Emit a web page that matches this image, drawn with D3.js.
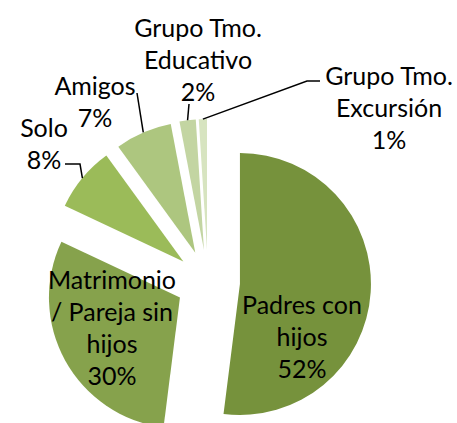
<!DOCTYPE html>
<html>
<head>
<meta charset="utf-8">
<script src="https://cdn.jsdelivr.net/npm/d3@7/dist/d3.min.js"></script>
<style>
  body { margin: 0; background: #fff; }
  svg { display: block; }
  text { font-family: Lato, "Liberation Sans", sans-serif; fill: #000; }
</style>
</head>
<body>
<svg></svg>
<script>
// data
const categories = ["Padres con hijos", "Matrimonio / Pareja sin hijos", "Solo", "Amigos", "Grupo Tmo. Educativo", "Grupo Tmo. Excursión"];
const values = [52, 30, 8, 7, 2, 1];
const labelLines = [
  ["Padres con", "hijos", "52%"],
  ["Matrimonio", "/ Pareja sin", "hijos", "30%"],
  ["Solo", "8%"],
  ["Amigos", "7%"],
  ["Grupo Tmo.", "Educativo", "2%"],
  ["Grupo Tmo.", "Excursión", "1%"]
];
const colors = ["#76923c", "#86a24c", "#9bbb59", "#adc67f", "#c3d5a2", "#d7e4c0"];

// layout
const width = 457, height = 423;
const cx = 208, cy = 282;
const radius = 131;
const explode = 32;
const fontSize = 25;
const lineGap = 32;

// label block positions (center x, first line center y) and leader start points
const labelPos = [
  { x: 302, y: 305, leader: null },
  { x: 112, y: 280, leader: null },
  { x: 44, y: 128, leader: [[65, 164], [80, 164]] },
  { x: 95, y: 86, leader: [[137, 93]] },
  { x: 198, y: 28, leader: [[189, 104]] },
  { x: 389, y: 76, leader: [[320, 81], [307, 81]] }
];

const svg = d3.select("svg")
    .attr("width", width)
    .attr("height", height);

const pie = d3.pie().sort(null).value(d => d);
const arcs = pie(values);

const arc = d3.arc().innerRadius(0).outerRadius(radius);

function offset(d) {
  const a = (d.startAngle + d.endAngle) / 2;
  return [Math.sin(a) * explode, -Math.cos(a) * explode];
}

const g = svg.append("g").attr("transform", `translate(${cx},${cy})`);

g.selectAll("path")
  .data(arcs)
  .enter().append("path")
    .attr("d", arc)
    .attr("fill", (d, i) => colors[i])
    .attr("transform", d => `translate(${offset(d)})`);

// leader lines
arcs.forEach((d, i) => {
  const p = labelPos[i];
  if (!p.leader) return;
  const a = (d.startAngle + d.endAngle) / 2;
  const o = offset(d);
  const end = [cx + o[0] + Math.sin(a) * radius, cy + o[1] - Math.cos(a) * radius];
  svg.append("path")
      .attr("d", d3.line()(p.leader.concat([end])))
      .attr("fill", "none")
      .attr("stroke", "#000")
      .attr("stroke-width", 1.5);
});

// labels
labelLines.forEach((lines, i) => {
  const p = labelPos[i];
  const t = svg.append("text")
      .attr("text-anchor", "middle")
      .style("font-size", fontSize + "px");
  lines.forEach((s, j) => {
    t.append("tspan")
        .attr("x", p.x)
        .attr("y", p.y + j * lineGap + fontSize * 0.35)
        .text(s);
  });
});
</script>
</body>
</html>
